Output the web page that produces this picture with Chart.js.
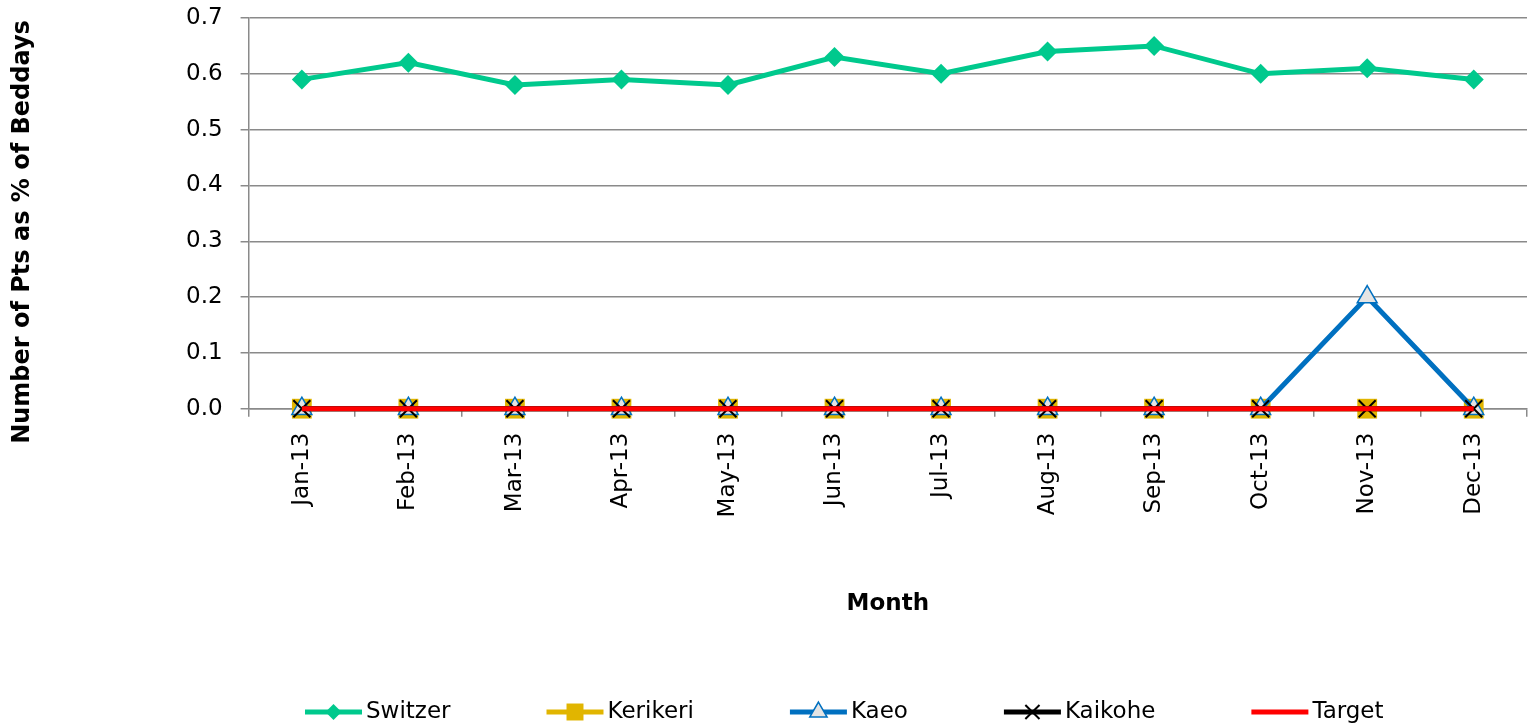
<!DOCTYPE html>
<html>
<head>
<meta charset="utf-8">
<script src="https://cdn.jsdelivr.net/npm/chart.js@4"></script>
<style>
  html, body { margin: 0; padding: 0; background: #fff; }
  #wrap { width: 1528px; height: 728px; }
</style>
</head>
<body>
<div id="wrap"><canvas id="chart" width="1528" height="728"></canvas></div>
<script>
// Monthly values per site
const months = ["Jan-13", "Feb-13", "Mar-13", "Apr-13", "May-13", "Jun-13",
  "Jul-13", "Aug-13", "Sep-13", "Oct-13", "Nov-13", "Dec-13"];
const switzer = [0.59, 0.62, 0.58, 0.59, 0.58, 0.63, 0.60, 0.64, 0.65, 0.60, 0.61, 0.59];
const kerikeri = [0, 0, 0, 0, 0, 0, 0, 0, 0, 0, 0, 0];
const kaeo = [0, 0, 0, 0, 0, 0, 0, 0, 0, 0, 0.2, 0];
const kaikohe = [0, 0, 0, 0, 0, 0, 0, 0, 0, 0, 0, 0];
const target = [0, 0, 0, 0, 0, 0, 0, 0, 0, 0, 0, 0];
const yTicks = [0, 0.1, 0.2, 0.3, 0.4, 0.5, 0.6, 0.7];
const yTitle = "Number of Pts as % of Beddays";

const FONT = "'DejaVu Sans', sans-serif";
const GRID = "#8a8a8a";

const datasets = [
  {
    label: "Switzer", data: switzer, order: 5,
    borderColor: "#00C98D", backgroundColor: "#00C98D", borderWidth: 5,
    pointStyle: "rectRot", pointRadius: 10, pointBorderWidth: 0,
    legendRadius: 8,
  },
  {
    label: "Kerikeri", data: kerikeri, order: 4,
    borderColor: "#E1B500", backgroundColor: "#E1B500", borderWidth: 5,
    pointStyle: "rect", pointRadius: 14, pointBorderWidth: 0,
    legendRadius: 12,
  },
  {
    label: "Kaeo", data: kaeo, order: 3,
    borderColor: "#0070C0", backgroundColor: "#E4E4E4", borderWidth: 5,
    pointStyle: "triangle", pointRadius: 11.5, pointBorderWidth: 1.5,
    pointBorderColor: "#0070C0", legendRadius: 10,
  },
  {
    label: "Kaikohe", data: kaikohe, order: 2,
    borderColor: "#000000", backgroundColor: "#000000", borderWidth: 5,
    pointStyle: "crossRot", pointRadius: 12, pointBorderWidth: 2,
    pointBorderColor: "#000000", legendRadius: 10,
  },
  {
    label: "Target", data: target, order: 1,
    borderColor: "#FF0000", backgroundColor: "#FF0000", borderWidth: 5,
    pointRadius: 0, legendRadius: 0,
  },
];
datasets.forEach((d) => { d.clip = false; d.tension = 0; d.pointHoverRadius = d.pointRadius; });

// Legend along the bottom: a line sample with the marker, then the name
const bottomLegend = {
  id: "bottomLegend",
  afterDraw(chart) {
    const ctx = chart.ctx;
    const y = 712;
    const lineW = 57;
    const gap = 96;
    let x = 305;
    ctx.save();
    ctx.font = "23px " + FONT;
    ctx.textBaseline = "middle";
    chart.data.datasets.forEach((ds) => {
      ctx.strokeStyle = ds.borderColor;
      ctx.lineWidth = 5;
      ctx.beginPath();
      ctx.moveTo(x, y);
      ctx.lineTo(x + lineW, y);
      ctx.stroke();
      if (ds.pointStyle && ds.legendRadius) {
        ctx.fillStyle = ds.backgroundColor;
        ctx.strokeStyle = ds.pointBorderColor || ds.borderColor;
        ctx.lineWidth = ds.pointBorderWidth || 0;
        Chart.helpers.drawPoint(ctx, {
          pointStyle: ds.pointStyle, radius: ds.legendRadius,
          rotation: 0, borderWidth: ds.pointBorderWidth || 0,
        }, x + lineW / 2, y);
      }
      ctx.fillStyle = "#000";
      ctx.fillText(ds.label, x + lineW + 4, y);
      x += lineW + 4 + ctx.measureText(ds.label).width + gap;
    });
    ctx.restore();
  },
};

// Vertical axis title, set a little below the plot's middle
const sideTitle = {
  id: "sideTitle",
  afterDraw(chart) {
    const ctx = chart.ctx;
    ctx.save();
    ctx.translate(23, 232);
    ctx.rotate(-Math.PI / 2);
    ctx.font = "bold 24px " + FONT;
    ctx.fillStyle = "#000";
    ctx.textAlign = "center";
    ctx.textBaseline = "middle";
    ctx.fillText(yTitle, 0, 0);
    ctx.restore();
  },
};

// drop the extra edge room the scales ask for so the plot can run to the edges
function noEdgePadding(scale) {
  scale.paddingTop = 0;
  scale.paddingBottom = 0;
  scale.paddingLeft = 0;
  scale.paddingRight = 0;
}

new Chart(document.getElementById("chart"), {
  type: "line",
  data: { labels: months, datasets: datasets },
  plugins: [bottomLegend, sideTitle],
  options: {
    responsive: false,
    animation: false,
    events: [],
    layout: { autoPadding: false, padding: { top: 18, right: 1, bottom: 36, left: 168 } },
    plugins: { legend: { display: false }, tooltip: { enabled: false } },
    scales: {
      x: {
        offset: true,
        afterFit: noEdgePadding,
        grid: {
          offset: true, drawOnChartArea: false, drawTicks: true,
          tickLength: 8, color: GRID, lineWidth: 1.5,
        },
        border: { color: GRID, width: 1.5 },
        ticks: {
          autoSkip: false, minRotation: 90, maxRotation: 90, padding: 16,
          color: "#000", font: { family: FONT, size: 23 },
        },
        title: {
          display: true, text: "Month", color: "#000",
          font: { family: FONT, size: 23, weight: "bold" },
          padding: { top: 57, bottom: 74 },
        },
      },
      y: {
        min: 0, max: 0.7,
        afterFit: noEdgePadding,
        afterBuildTicks: (scale) => { scale.ticks = yTicks.map((v) => ({ value: v })); },
        grid: { color: GRID, lineWidth: 1.5, tickLength: 8 },
        border: { color: GRID, width: 1.5 },
        ticks: {
          padding: 18, color: "#000", font: { family: FONT, size: 23 },
          callback: (v) => Number(v).toFixed(1),
        },
      },
    },
  },
});
</script>
</body>
</html>
